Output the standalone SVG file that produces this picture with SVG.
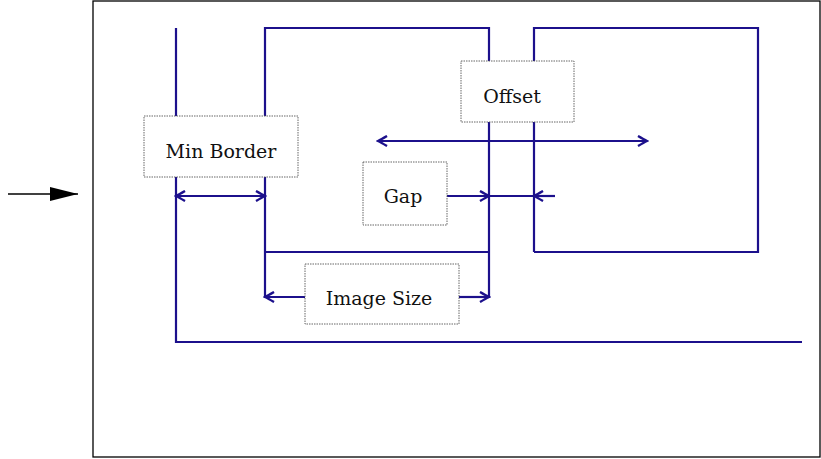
<svg xmlns="http://www.w3.org/2000/svg" width="821" height="459" viewBox="0 0 821 459">
  <style>
    .frame { fill: none; stroke: #000; stroke-width: 1.3; }
    .guide { fill: none; stroke: #1c108c; stroke-width: 2.2; }
    .dim { fill: none; stroke: #1c108c; stroke-width: 2.2; marker-end: url(#barb); }
    .dim2 { fill: none; stroke: #1c108c; stroke-width: 2.2; marker-start: url(#barb); marker-end: url(#barb); }
    .box rect { fill: #fff; stroke: #555; stroke-width: 0.9; stroke-dasharray: 1.5 1; }
    .box text { font-family: "DejaVu Serif", "Liberation Serif", serif; font-size: 19px; fill: #111; text-anchor: middle; }
  </style>
  <defs>
    <marker id="barb" viewBox="-11 -6 13 12" refX="0" refY="0" markerWidth="13" markerHeight="12" markerUnits="userSpaceOnUse" orient="auto-start-reverse">
      <path d="M -9,-5 Q -3,-1.5 0,0 Q -3,1.5 -9,5" fill="none" stroke="#1c108c" stroke-width="2.4"/>
    </marker>
    <marker id="solid" viewBox="0 0 28 14" refX="28" refY="7" markerWidth="28" markerHeight="14" markerUnits="userSpaceOnUse" orient="auto">
      <path d="M 0,0 L 28,7 L 0,14 Z" fill="#000"/>
    </marker>
  </defs>

  <!-- page frame and entry pointer -->
  <rect class="frame" x="93" y="1" width="727" height="456"/>
  <line x1="8" y1="194" x2="78" y2="194" stroke="#000" stroke-width="1.3" marker-end="url(#solid)"/>

  <g id="connectors">
    <!-- border edges -->
    <polyline class="guide" points="176,28 176,342 802,342"/>
    <!-- first image -->
    <polyline class="guide" points="265,298 265,28 489,28 489,298"/>
    <line class="guide" x1="265" y1="252" x2="489" y2="252"/>
    <!-- second image -->
    <polyline class="guide" points="534,252 534,28 758,28 758,252 534,252"/>
    <!-- dimension arrows -->
    <line class="dim2" x1="378" y1="141" x2="647" y2="141"/>
    <line class="dim2" x1="176" y1="196" x2="265" y2="196"/>
    <line class="dim" x1="447" y1="196" x2="489" y2="196"/>
    <line class="guide" x1="489" y1="196" x2="534" y2="196"/>
    <line class="dim" x1="555" y1="196" x2="534" y2="196"/>
    <line class="dim" x1="305" y1="297" x2="265" y2="297"/>
    <line class="dim" x1="459" y1="297" x2="489" y2="297"/>
  </g>

  <g id="min-border" class="box">
    <rect x="144" y="116" width="154" height="61"/>
    <text x="221" y="158">Min Border</text>
  </g>
  <g id="offset" class="box">
    <rect x="461" y="61" width="113" height="61"/>
    <text x="512" y="103">Offset</text>
  </g>
  <g id="gap" class="box">
    <rect x="363" y="162" width="84" height="63"/>
    <text x="403" y="203">Gap</text>
  </g>
  <g id="image-size" class="box">
    <rect x="305" y="264" width="154" height="60"/>
    <text x="379" y="305">Image Size</text>
  </g>
</svg>
